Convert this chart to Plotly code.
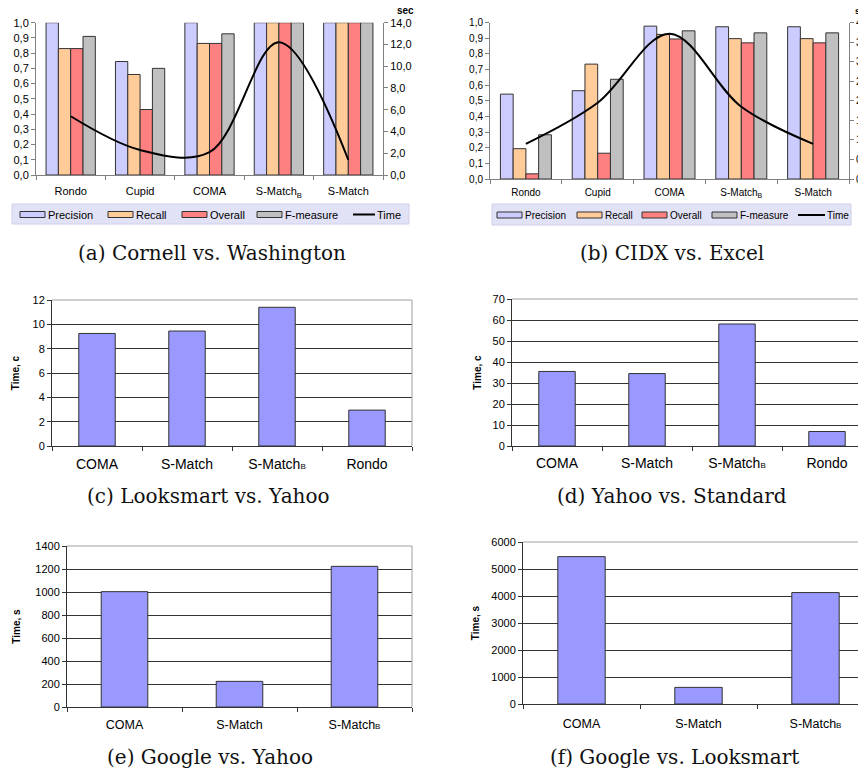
import plotly.graph_objects as go

W, H = 866, 772
OFF = 8  # the page body adds an 8 px margin around the figure
SANS = "Liberation Sans, Arial, sans-serif"
SERIF = "DejaVu Serif, serif"

# ---------------- data ----------------
SB_SUB = "S-Match<sub>B</sub>"
SB_SMALL = "S-Match<span style='font-size:8px'>B</span>"

a_cats = ["Rondo", "Cupid", "COMA", SB_SUB, "S-Match"]
a_precision = [1.0, 0.745, 1.0, 1.0, 1.0]
a_recall = [0.83, 0.66, 0.864, 1.0, 1.0]
a_overall = [0.83, 0.43, 0.864, 1.0, 1.0]
a_fmeasure = [0.91, 0.70, 0.927, 1.0, 1.0]
a_time = [5.4, 2.3, 2.1, 12.2, 1.4]

b_cats = ["Rondo", "Cupid", "COMA", SB_SUB, "S-Match"]
b_precision = [0.543, 0.565, 0.978, 0.974, 0.974]
b_recall = [0.194, 0.735, 0.925, 0.898, 0.898]
b_overall = [0.033, 0.165, 0.896, 0.871, 0.871]
b_fmeasure = [0.283, 0.638, 0.948, 0.935, 0.935]
b_time = [0.9, 1.95, 3.72, 1.85, 0.9]

c_cats = ["COMA", "S-Match", SB_SMALL, "Rondo"]
c_time = [9.25, 9.45, 11.4, 2.95]

d_cats = ["COMA", "S-Match", SB_SMALL, "Rondo"]
d_time = [35.5, 34.5, 58.1, 6.9]

e_cats = ["COMA", "S-Match", SB_SMALL]
e_time = [1003, 223, 1223]

f_cats = ["COMA", "S-Match", SB_SMALL]
f_time = [5458, 616, 4127]

series_names = ["Precision", "Recall", "Overall", "F-measure"]
series_colors = ["#ccccff", "#ffcc99", "#ff8080", "#c0c0c0"]
time_name = "Time"

captions = ["(a) Cornell vs. Washington", "(b) CIDX vs. Excel",
            "(c) Looksmart vs. Yahoo", "(d) Yahoo vs. Standard",
            "(e) Google vs. Yahoo", "(f) Google vs. Looksmart"]


def px_x(v):
    return (v - OFF) / W


def px_y(v):
    return 1 - (v - OFF) / H


fig = go.Figure()

# ---------------- panels (a) and (b) ----------------
for cats, vals, xa, ya, ya2, tvals in [
    (a_cats, (a_precision, a_recall, a_overall, a_fmeasure), "x", "y", "y2", a_time),
    (b_cats, (b_precision, b_recall, b_overall, b_fmeasure), "x2", "y3", "y4", b_time),
]:
    for name, col, v in zip(series_names, series_colors, vals):
        fig.add_trace(go.Bar(
            x=cats, y=v, name=name, xaxis=xa, yaxis=ya, showlegend=False,
            marker=dict(color=col, line=dict(color="#333333", width=1)),
        ))
    fig.add_trace(go.Scatter(
        x=cats, y=tvals, name=time_name, xaxis=xa, yaxis=ya2, showlegend=False,
        mode="lines", line=dict(color="black", width=2, shape="spline", smoothing=1.0),
    ))

# ---------------- panels (c)-(f) ----------------
for cats, v, xa, ya in [(c_cats, c_time, "x3", "y5"), (d_cats, d_time, "x4", "y6"),
                        (e_cats, e_time, "x5", "y7"), (f_cats, f_time, "x6", "y8")]:
    fig.add_trace(go.Bar(
        x=cats, y=v, xaxis=xa, yaxis=ya, showlegend=False, width=0.405,
        marker=dict(color="#9999ff", line=dict(color="#333333", width=1)),
    ))

axis_gray = "#808080"
common_x = dict(type="category", tickson="boundaries", ticks="outside", ticklen=4,
                tickcolor=axis_gray, showline=True, linecolor=axis_gray,
                showgrid=False, zeroline=False, automargin=False)
common_y = dict(ticks="outside", ticklen=4, tickcolor=axis_gray, showline=True,
                linecolor=axis_gray, showgrid=False, zeroline=False, automargin=False)

lay = dict(
    template="none",
    width=W, height=H, margin=dict(l=0, r=0, t=0, b=0, autoexpand=False),
    paper_bgcolor="white", plot_bgcolor="white",
    font=dict(family=SANS, color="black", size=11),
    separators=", ",
    showlegend=False,
    barmode="group", bargap=0.29, bargroupgap=0,
    # (a)
    xaxis=dict(common_x, domain=[px_x(36), px_x(383)], anchor="y",
               tickfont=dict(size=11), ticklabelstandoff=6),
    yaxis=dict(common_y, domain=[px_y(175), px_y(22.7)], anchor="x", range=[0, 1],
               dtick=0.1, tickformat=".1f", tickfont=dict(size=11)),
    yaxis2=dict(common_y, overlaying="y", side="right", anchor="x", range=[0, 14],
                dtick=2, tickformat=".1f", tickfont=dict(size=11)),
    # (b)
    xaxis2=dict(common_x, domain=[px_x(490), px_x(849)], anchor="y3",
                tickfont=dict(size=10), ticklabelstandoff=4),
    yaxis3=dict(common_y, domain=[px_y(179), px_y(22.7)], anchor="x2", range=[0, 1],
                dtick=0.1, tickformat=".1f", tickfont=dict(size=10)),
    yaxis4=dict(common_y, overlaying="y3", side="right", anchor="x2", range=[0, 4],
                dtick=0.5, tickformat=".1f", tickfont=dict(size=10)),
)

dark = "#333333"
time_panels = [
    # x-key, y-key, y-id, x-id, x px, y px, x-range, ymax, dtick, title, cat font, title standoff, label standoff
    ("xaxis3", "yaxis5", "y5", "x3", [52, 412], [446, 300], [-0.5, 3.5], 12, 2, "Time, c", 14, 11, 5),
    ("xaxis4", "yaxis6", "y6", "x4", [512, 872], [446, 299], [-0.5, 3.5], 70, 10, "Time, c", 14, 9, 4),
    ("xaxis5", "yaxis7", "y7", "x5", [67, 412], [707, 546], [-0.5, 2.5], 1400, 200, "Time, s", 12.5, 12, 6),
    ("xaxis6", "yaxis8", "y8", "x6", [523, 874], [704, 542], [-0.5, 2.5], 6000, 1000, "Time, s", 12.5, 9, 8),
]
shapes = []
for xk, yk, yid, xid, xd, yd, xr, ymax, dt, title, cfs, so, lso in time_panels:
    lay[xk] = dict(type="category", tickson="boundaries", ticks="outside", ticklen=4,
                   tickcolor=dark, showline=True, linecolor=dark, showgrid=False,
                   zeroline=False, automargin=False,
                   domain=[px_x(xd[0]), min(1.0, px_x(xd[1]))], anchor=yid,
                   range=xr, tickfont=dict(size=cfs), ticklabelstandoff=lso)
    lay[yk] = dict(ticks="outside", ticklen=4, tickcolor=dark, showline=True,
                   linecolor=dark, showgrid=True, gridcolor=dark, gridwidth=1,
                   zeroline=False, automargin=False,
                   domain=[px_y(yd[0]), px_y(yd[1])], anchor=xid,
                   range=[0, ymax], dtick=dt, tickformat="d", tickfont=dict(size=11),
                   title=dict(text="<b>" + title + "</b>", font=dict(size=10), standoff=so))
    shapes.append(dict(type="line", xref=xid + " domain", yref=yid + " domain",
                       x0=0, x1=1, y0=1, y1=1, line=dict(color="#a0a0a0", width=1),
                       layer="above"))
    shapes.append(dict(type="line", xref=xid + " domain", yref=yid + " domain",
                       x0=1, x1=1, y0=0, y1=1, line=dict(color="#a0a0a0", width=1),
                       layer="above"))

annotations = [
    dict(text="<b>sec</b>", x=px_x(405), y=px_y(10), xref="paper", yref="paper",
         yanchor="middle", showarrow=False, font=dict(size=10)),
    dict(text="<b>sec</b>", x=px_x(853), y=px_y(11), xref="paper", yref="paper",
         xanchor="left", yanchor="middle", showarrow=False, font=dict(size=9)),
]

# ---------------- hand-drawn legends (layout decoration) ----------------
legend_boxes = [
    dict(box=(12, 409, 204, 224), sw=[20, 108, 182, 257], tl=(353, 375), fs=11),
    dict(box=(492, 851, 204, 225), sw=[497, 577, 642, 712], tl=(798, 825), fs=10),
]
for lg in legend_boxes:
    bx0, bx1, by0, by1 = lg["box"]
    shapes.append(dict(type="rect", xref="paper", yref="paper",
                       x0=px_x(bx0), x1=px_x(bx1), y0=px_y(by1), y1=px_y(by0),
                       fillcolor="#e2e2f6", line=dict(color="#d0d0ea", width=1),
                       layer="above"))
    yc = (by0 + by1) / 2 + 0.5
    for name, col, sx in zip(series_names, series_colors, lg["sw"]):
        shapes.append(dict(type="rect", xref="paper", yref="paper",
                           x0=px_x(sx), x1=px_x(sx + 25), y0=px_y(yc + 3), y1=px_y(yc - 3),
                           fillcolor=col, line=dict(color="#333333", width=1),
                           layer="above"))
        annotations.append(dict(text=name, x=px_x(sx + 26), y=px_y(yc), xref="paper",
                                yref="paper", xanchor="left", yanchor="middle",
                                showarrow=False, font=dict(size=lg["fs"])))
    tx0, tx1 = lg["tl"]
    shapes.append(dict(type="line", xref="paper", yref="paper",
                       x0=px_x(tx0), x1=px_x(tx1), y0=px_y(yc), y1=px_y(yc),
                       line=dict(color="black", width=2), layer="above"))
    annotations.append(dict(text=time_name, x=px_x(tx1), y=px_y(yc), xref="paper",
                            yref="paper", xanchor="left", yanchor="middle",
                            showarrow=False, font=dict(size=lg["fs"])))

cap_pos = [(212, 253), (672, 253), (208, 496), (672, 496), (210, 757), (674, 757)]
for txt, (cx, cy) in zip(captions, cap_pos):
    annotations.append(dict(text=txt, x=px_x(cx), y=px_y(cy), xref="paper", yref="paper",
                            xanchor="center", yanchor="middle", showarrow=False,
                            font=dict(family=SERIF, size=20, color="#111111")))

lay["shapes"] = shapes
lay["annotations"] = annotations

fig.update_layout(**lay)
fig.write_html("out.html")
